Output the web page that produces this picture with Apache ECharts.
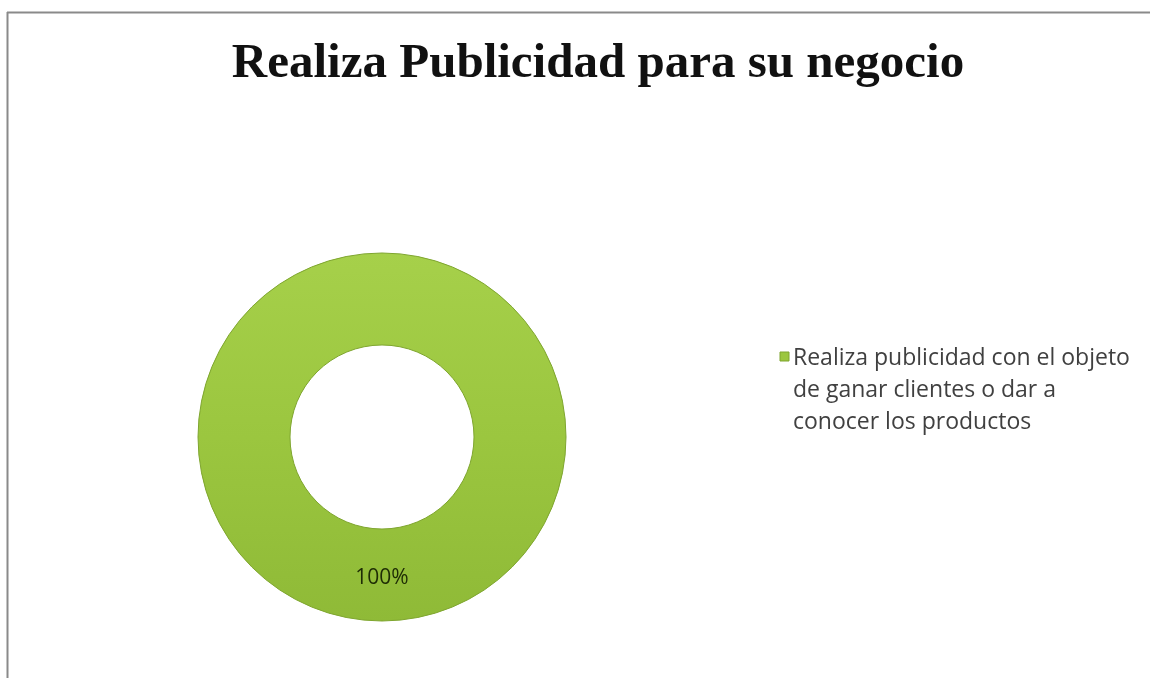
<!DOCTYPE html>
<html>
<head>
<meta charset="utf-8">
<script src="https://cdn.jsdelivr.net/npm/echarts@6/dist/echarts.min.js"></script>
<style>
html,body{margin:0;padding:0;background:#fff;}
#chart{width:1150px;height:678px;}
</style>
</head>
<body>
<div id="chart"></div>
<script>
const titleText = 'Realiza Publicidad para su negocio';
const categories = ['Realiza publicidad con el objeto\nde ganar clientes o dar a\nconocer los productos'];
const values = [100];
const labels = ['100%'];

const chart = echarts.init(document.getElementById('chart'));
const green = new echarts.graphic.LinearGradient(0, 0, 0, 1, [
  {offset: 0, color: '#a6d04a'},
  {offset: 0.5, color: '#9bc63f'},
  {offset: 1, color: '#8fba37'}
]);

// legend drawn as graphic elements (icon aligned to the first text line)
const legendGraphics = [];
categories.forEach((c, i) => {
  legendGraphics.push({type: 'rect', shape: {x: 780, y: 352 + i * 110, width: 9, height: 9},
    style: {fill: '#9bc63f', stroke: '#7ea52e', lineWidth: 1}});
  legendGraphics.push({type: 'text', x: 793, y: 342 + i * 110,
    style: {text: c, fontFamily: 'Open Sans', fontSize: 23, lineHeight: 32, fill: '#404040',
      textVerticalAlign: 'top', verticalAlign: 'top'}});
});

chart.setOption({
  animation: false,
  title: {
    text: titleText,
    left: 593,
    top: 35,
    textAlign: 'center',
    textStyle: {fontFamily: 'Liberation Serif', fontWeight: 'bold', fontSize: 49, color: '#111'}
  },
  graphic: [
    {type: 'line', shape: {x1: 7, y1: 12.5, x2: 1150, y2: 12.5}, style: {stroke: '#8a8a8a', lineWidth: 2}},
    {type: 'line', shape: {x1: 7.5, y1: 12, x2: 7.5, y2: 678}, style: {stroke: '#8a8a8a', lineWidth: 2}}
  ].concat(legendGraphics),
  series: [{
    type: 'pie',
    center: [382, 437],
    radius: [92, 184],
    silent: true,
    label: {
      show: true,
      position: 'inside',
      formatter: (p) => labels[p.dataIndex],
      fontFamily: 'Open Sans',
      fontSize: 21,
      color: '#1e2c05'
    },
    labelLine: {show: false},
    itemStyle: {color: green, borderColor: '#7ea52e', borderWidth: 1},
    data: categories.map((c, i) => ({name: c, value: values[i]}))
  }]
});
</script>
</body>
</html>
